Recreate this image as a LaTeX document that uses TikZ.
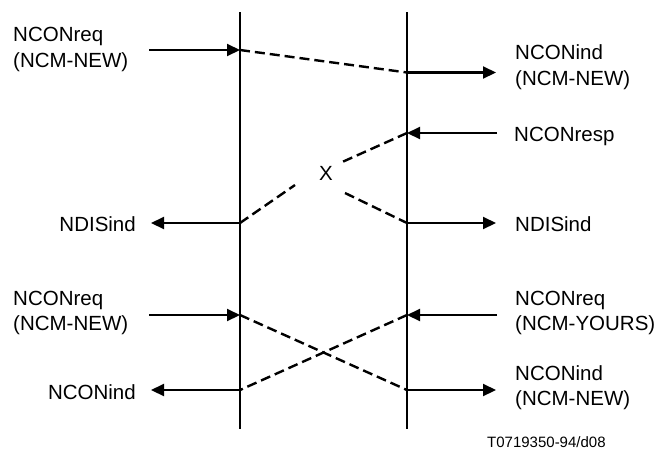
\documentclass[tikz,border=0pt]{standalone}
\usepackage{fontspec}
\setmainfont{Liberation Sans}
\usetikzlibrary{arrows.meta}
\begin{document}
\begin{tikzpicture}[x=1pt,y=-1pt,
  lbl/.style={inner sep=0pt,font=\fontsize{20.5}{24}\selectfont},
  lifeline/.style={line width=1.9pt},
  prim/.style={line width=2.1pt,-{Triangle[length=13pt,width=12pt]}},
  msg/.style={line width=2.4pt,dash pattern=on 10pt off 5pt}]
\useasboundingbox (0,0) rectangle (661,464);
% lifelines
\coordinate (Ltop) at (240,12); \coordinate (Lbot) at (240,429);
\coordinate (Rtop) at (407,12); \coordinate (Rbot) at (407,429);
\draw[lifeline] (Ltop) -- (Lbot);
\draw[lifeline] (Rtop) -- (Rbot);
% row 1
\coordinate (a1s) at (149,50); \coordinate (a1l) at (240,50);
\coordinate (a1r) at (407,72.5); \coordinate (a1e) at (496,72.5);
\draw[prim] (a1s) -- (a1l);
\draw[msg] (a1l) -- (a1r);
\draw[prim] (a1r) -- (a1e);
\node[lbl,anchor=base west] (t1a) at (13,41.5) {NCONreq};
\node[lbl,anchor=base west] (t1b) at (13,67.5) {(NCM-NEW)};
\node[lbl,anchor=base west] (t1c) at (515,59.5) {NCONind};
\node[lbl,anchor=base west] (t1d) at (515,85) {(NCM-NEW)};
% row 2
\coordinate (b1s) at (497,133); \coordinate (b1r) at (407,133);
\coordinate (b1m) at (340,163);
\coordinate (b2l) at (240,223); \coordinate (b2m) at (295,185);
\coordinate (b3m) at (345,193); \coordinate (b3r) at (407,223);
\coordinate (b2e) at (151,223); \coordinate (b3e) at (496,223);
\draw[prim] (b1s) -- (b1r);
\draw[msg] (b1r) -- (b1m);
\draw[msg] (b2l) -- (b2m);
\draw[msg] (b3m) -- (b3r);
\draw[prim] (b2l) -- (b2e);
\draw[prim] (b3r) -- (b3e);
\node[lbl] (x) at (326,173) {X};
\node[lbl,anchor=base west] (t2a) at (514,141) {NCONresp};
\node[lbl,anchor=base east] (t2b) at (136,231) {NDISind};
\node[lbl,anchor=base west] (t2c) at (515,231) {NDISind};
% row 3
\coordinate (c1s) at (149,315); \coordinate (c1l) at (240,315);
\coordinate (c2s) at (497,315); \coordinate (c2r) at (407,315);
\coordinate (c1r) at (407,390); \coordinate (c1e) at (496,390);
\coordinate (c2l) at (240,390); \coordinate (c2e) at (151,390);
\draw[prim] (c1s) -- (c1l);
\draw[prim] (c2s) -- (c2r);
\draw[msg] (c1l) -- (c1r);
\draw[msg] (c2r) -- (c2l);
\draw[prim] (c1r) -- (c1e);
\draw[prim] (c2l) -- (c2e);
\node[lbl,anchor=base west] (t3a) at (13,305) {NCONreq};
\node[lbl,anchor=base west] (t3b) at (13,330) {(NCM-NEW)};
\node[lbl,anchor=base east] (t3c) at (136,399) {NCONind};
\node[lbl,anchor=base west] (t3d) at (515,305) {NCONreq};
\node[lbl,anchor=base west] (t3e) at (515,330) {(NCM-YOURS)};
\node[lbl,anchor=base west] (t3f) at (515,380) {NCONind};
\node[lbl,anchor=base west] (t3g) at (515,405) {(NCM-NEW)};
% footer
\node[inner sep=0pt,anchor=base west,font=\fontsize{15}{18}\selectfont] (foot) at (487,447) {T0719350-94/d08};
\end{tikzpicture}
\end{document}
